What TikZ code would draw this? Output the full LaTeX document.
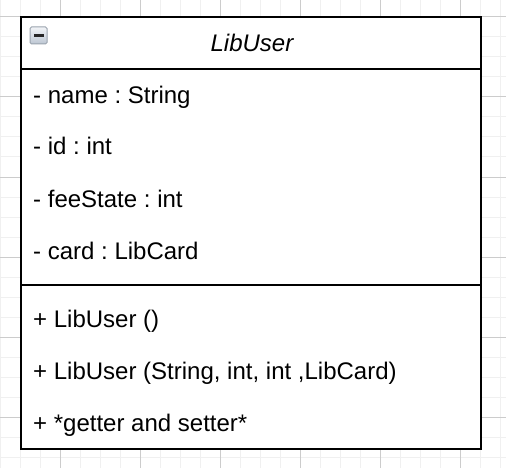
\documentclass[tikz,border=0pt]{standalone}
\usepackage{fontspec}
\setmainfont{Liberation Sans}
\frenchspacing
\definecolor{iconedge}{HTML}{9AA3AE}
\definecolor{icontop}{HTML}{F2F4F7}
\definecolor{iconbot}{HTML}{BCC6D2}
\begin{document}
\begin{tikzpicture}[x=1pt,y=-1pt,
  minorgrid/.style={draw=black!6,line width=1pt},
  majorgrid/.style={draw=black!20,line width=1pt},
  umlbox/.style={draw=black,line width=1.8pt},
  member/.style={anchor=base west,inner sep=0pt,font=\fontsize{24}{28}\selectfont},
  titletext/.style={anchor=base,inner sep=0pt,font=\fontsize{24}{28}\selectfont\itshape}]
\useasboundingbox (0,0) rectangle (506,468);
\fill[white] (0,0) rectangle (506,468);
% grid
\foreach \x in {0,20,...,500} \draw[minorgrid] (\x,0) -- (\x,468);
\foreach \y in {17,37,...,467} \draw[minorgrid] (0,\y) -- (506,\y);
\foreach \x in {60,140,...,460} \draw[majorgrid] (\x,0) -- (\x,468);
\foreach \y in {17,97,...,417} \draw[majorgrid] (0,\y) -- (506,\y);
% class box
\coordinate (tl) at (21,17);
\coordinate (br) at (481,449);
\fill[white] (tl) rectangle (br);
\draw[umlbox] (21,69) -- (481,69);
\draw[umlbox] (21,285) -- (481,285);
\draw[umlbox] (tl) rectangle (br);
% collapse icon
\shade[top color=icontop,bottom color=iconbot,draw=iconedge,line width=1pt,rounded corners=1.5pt] (30,27) rectangle (47,44);
\fill[black!85] (33.5,34) rectangle (43.5,37);
% title
\node[titletext] (title) at (252,52) {LibUser};
% attributes
\node[member] (a1) at (33,104) {- name : String};
\node[member] (a2) at (33,155) {- id : int};
\node[member] (a3) at (33,207) {- feeState : int};
\node[member] (a4) at (33,259) {- card : LibCard};
% methods
\node[member] (m1) at (33,327) {+ LibUser ()};
\node[member] (m2) at (33,379) {+ LibUser (String, int, int ,LibCard)};
\node[member] (m3) at (33,431) {+ *getter and setter*};
\end{tikzpicture}
\end{document}
